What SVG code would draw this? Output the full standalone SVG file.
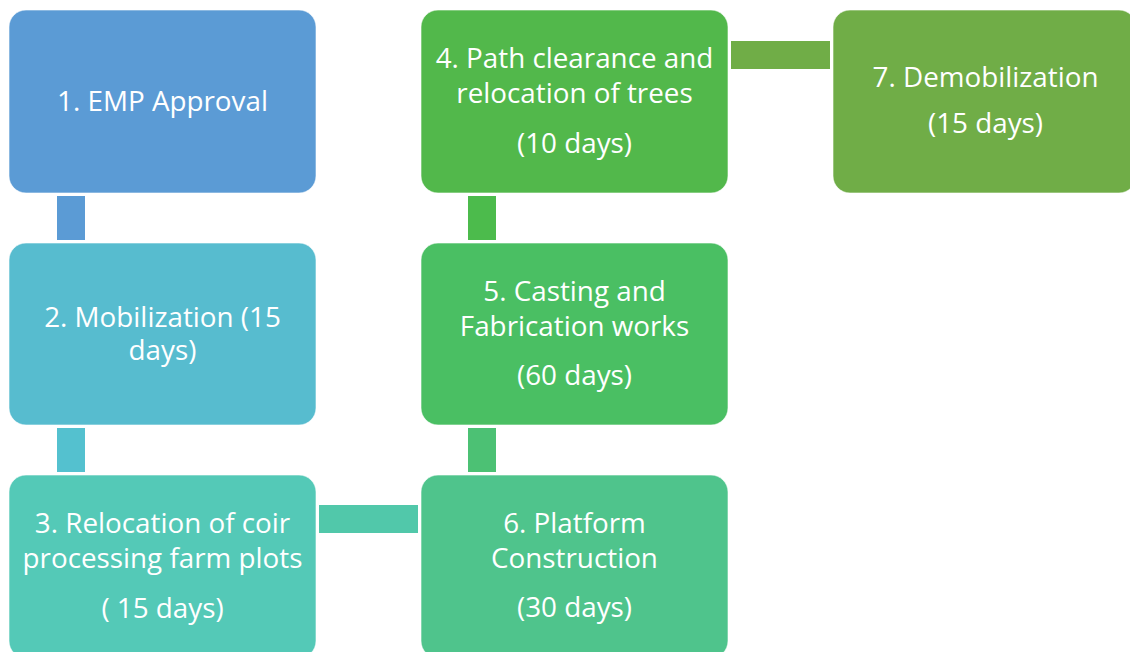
<svg xmlns="http://www.w3.org/2000/svg" width="1130" height="652" viewBox="0 0 1130 652">
  <style>
    .box { stroke: #ffffff; stroke-opacity: 0.6; stroke-width: 1; }
    .lbl { font-family: "Open Sans", "Noto Sans", sans-serif; font-size: 27.8px; fill: #ffffff; text-anchor: middle; }
  </style>
  <rect width="1130" height="652" fill="#ffffff"/>

  <!-- connector bars between the steps -->
  <g id="connectors">
    <rect x="57" y="196" width="28" height="44" fill="#5B9BD5"/>
    <rect x="57" y="428" width="28" height="44" fill="#54C1CF"/>
    <rect x="319" y="505" width="99" height="28" fill="#51C8AA"/>
    <rect x="468" y="428" width="28" height="44" fill="#4CC174"/>
    <rect x="468" y="196" width="28" height="44" fill="#4CBB4C"/>
    <rect x="731" y="41" width="99" height="28" fill="#70AD47"/>
  </g>

  <g id="step1">
    <rect class="box" x="9" y="10" width="307" height="183" rx="17" fill="#5B9BD5"/>
    <text class="lbl" x="162.5" y="111">1. EMP Approval</text>
  </g>

  <g id="step2">
    <rect class="box" x="9" y="243" width="307" height="182" rx="17" fill="#57BCCF"/>
    <text class="lbl" x="162.5" y="327">2. Mobilization (15</text>
    <text class="lbl" x="162.5" y="360">days)</text>
  </g>

  <g id="step3">
    <rect class="box" x="9" y="475" width="307" height="183" rx="17" fill="#54C9B7"/>
    <text class="lbl" x="162.5" y="533">3. Relocation of coir</text>
    <text class="lbl" x="162.5" y="568">processing farm plots</text>
    <text class="lbl" x="162.5" y="618">( 15 days)</text>
  </g>

  <g id="step4">
    <rect class="box" x="421" y="10" width="307" height="183" rx="17" fill="#52B84B"/>
    <text class="lbl" x="574.5" y="68">4. Path clearance and</text>
    <text class="lbl" x="574.5" y="103">relocation of trees</text>
    <text class="lbl" x="574.5" y="153">(10 days)</text>
  </g>

  <g id="step5">
    <rect class="box" x="421" y="243" width="307" height="182" rx="17" fill="#4ABF63"/>
    <text class="lbl" x="574.5" y="301">5. Casting and</text>
    <text class="lbl" x="574.5" y="336">Fabrication works</text>
    <text class="lbl" x="574.5" y="385">(60 days)</text>
  </g>

  <g id="step6">
    <rect class="box" x="421" y="475" width="307" height="183" rx="17" fill="#4FC48C"/>
    <text class="lbl" x="574.5" y="533">6. Platform</text>
    <text class="lbl" x="574.5" y="568">Construction</text>
    <text class="lbl" x="574.5" y="617">(30 days)</text>
  </g>

  <g id="step7">
    <rect class="box" x="833" y="10" width="303" height="183" rx="17" fill="#70AD47"/>
    <text class="lbl" x="985.5" y="87">7. Demobilization</text>
    <text class="lbl" x="985.5" y="133">(15 days)</text>
  </g>
</svg>
